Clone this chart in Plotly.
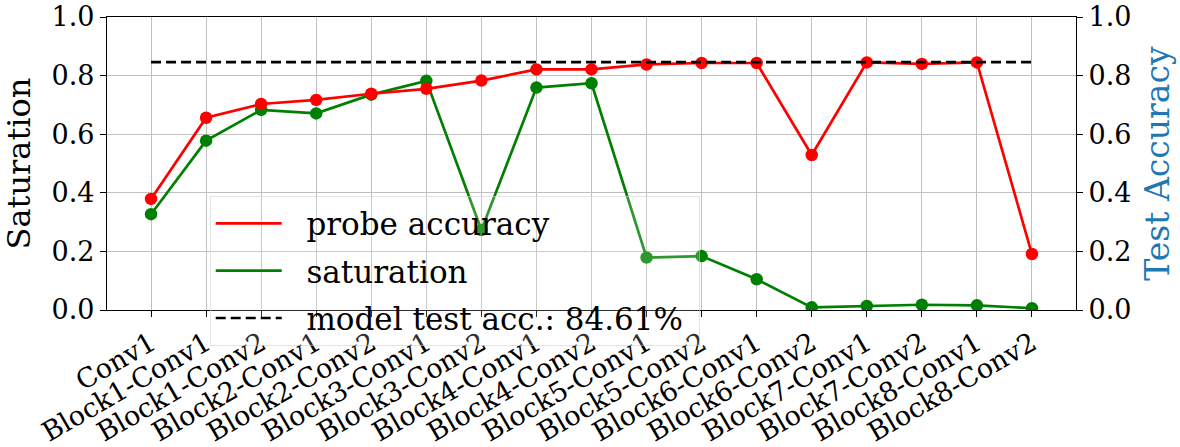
import plotly.graph_objects as go

layers = ["Conv1", "Block1-Conv1", "Block1-Conv2", "Block2-Conv1", "Block2-Conv2",
          "Block3-Conv1", "Block3-Conv2", "Block4-Conv1", "Block4-Conv2",
          "Block5-Conv1", "Block5-Conv2", "Block6-Conv1", "Block6-Conv2",
          "Block7-Conv1", "Block7-Conv2", "Block8-Conv1", "Block8-Conv2"]
probe_accuracy = [0.379, 0.656, 0.703, 0.717, 0.738, 0.755, 0.783, 0.821, 0.821,
                  0.838, 0.843, 0.843, 0.529, 0.845, 0.840, 0.845, 0.191]
saturation = [0.327, 0.578, 0.683, 0.671, 0.735, 0.782, 0.273, 0.759, 0.774,
              0.179, 0.184, 0.105, 0.009, 0.014, 0.018, 0.016, 0.006]
model_test_acc = 0.8461

FONT = "DejaVu Serif"
RED = "#ff0000"
GREEN = "#008000"
BLUE = "#1f77b4"
LW = 2.7
PAD = "\u00a0\u00a0"  # gap between legend handle and label

fig = go.Figure()

# lines (legend entries) and markers drawn as separate traces
fig.add_trace(go.Scatter(x=layers, y=probe_accuracy, mode="lines", name=PAD + "probe accuracy",
                         legendgroup="a", line=dict(color=RED, width=LW), yaxis="y2"))
fig.add_trace(go.Scatter(x=layers, y=probe_accuracy, mode="markers", showlegend=False,
                         legendgroup="a", marker=dict(color=RED, size=12.5), yaxis="y2"))
fig.add_trace(go.Scatter(x=layers, y=saturation, mode="lines", name=PAD + "saturation",
                         legendgroup="b", line=dict(color=GREEN, width=LW)))
fig.add_trace(go.Scatter(x=layers, y=saturation, mode="markers", showlegend=False,
                         legendgroup="b", marker=dict(color=GREEN, size=12.5)))
fig.add_trace(go.Scatter(x=[layers[0], layers[-1]], y=[model_test_acc, model_test_acc],
                         mode="lines", legendgroup="c",
                         name=PAD + f"model test acc.: {model_test_acc*100:.2f}%\u00a0",
                         line=dict(color="black", width=LW, dash="10px,5px"), yaxis="y2"))

axis_common = dict(
    showline=True, linecolor="black", linewidth=1.3, mirror=True,
    ticks="outside", ticklen=6, tickwidth=1.3, tickcolor="black",
    showgrid=True, gridcolor="#c0c0c0", gridwidth=1.3, zeroline=False,
    tickfont=dict(family=FONT, size=27, color="black"), automargin=False,
)

fig.update_layout(
    width=1180, height=447,
    margin=dict(l=107, r=104, t=17, b=137),
    plot_bgcolor="white", paper_bgcolor="white",
    font=dict(family=FONT, color="black"),
    xaxis=dict(axis_common, type="category", range=[-0.8, 16.8], tickangle=-30),
    yaxis=dict(axis_common, range=[0, 1], dtick=0.2, tickformat=".1f",
               title=dict(text="Saturation", font=dict(family=FONT, size=32, color="black"))),
    yaxis2=dict(axis_common, range=[0, 1], dtick=0.2, tickformat=".1f", overlaying="y",
                side="right", showgrid=False,
                title=dict(text="Test Accuracy", font=dict(family=FONT, size=33, color=BLUE))),
    legend=dict(x=0.106, y=0.39, xanchor="left", yanchor="top",
                bgcolor="rgba(255,255,255,0.18)", bordercolor="rgba(210,210,210,0.6)",
                borderwidth=1, font=dict(family=FONT, size=31, color="black"),
                itemwidth=66, tracegroupgap=4, traceorder="grouped"),
)

fig.write_html("out.html")
